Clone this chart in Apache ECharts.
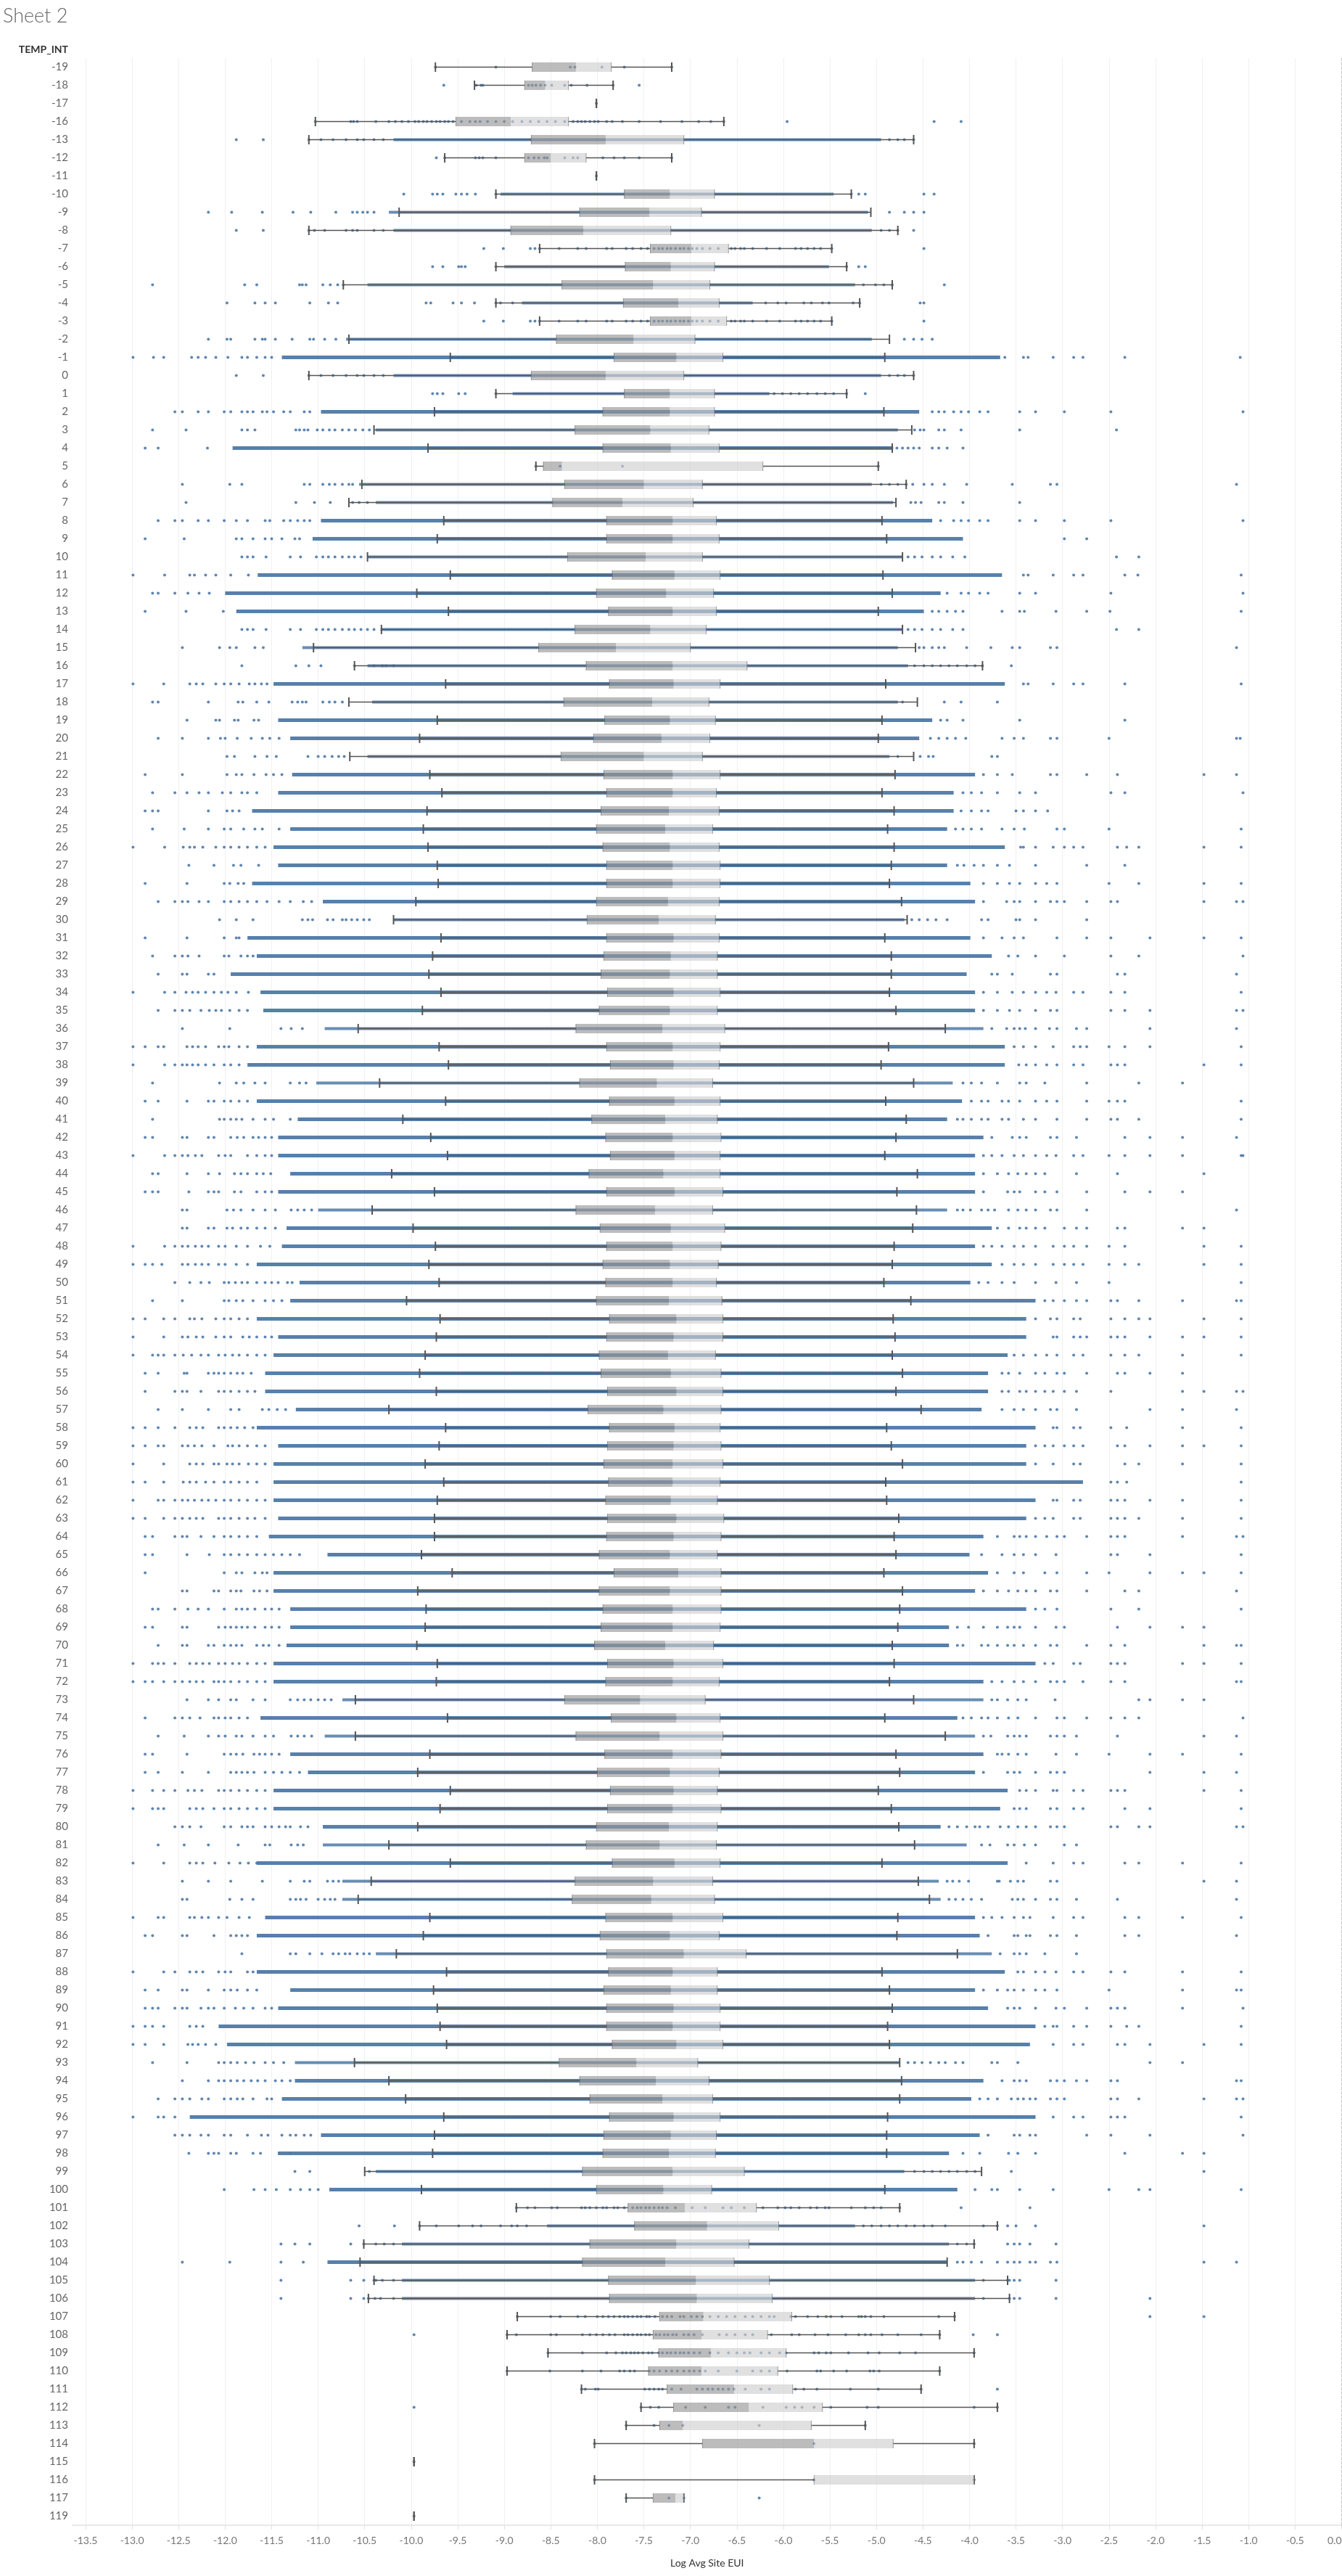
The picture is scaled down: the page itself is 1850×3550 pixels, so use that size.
<!DOCTYPE html>
<html><head><meta charset="utf-8">
<script src="https://cdn.jsdelivr.net/npm/echarts@6/dist/echarts.min.js"></script>
<style>html,body{margin:0;padding:0;background:#fff}#c{width:1850px;height:3550px}</style>
</head><body><div id="c"></div>
<script>
const TEMP_INT = ['-19','-18','-17','-16','-13','-12','-11','-10','-9','-8','-7','-6','-5','-4','-3','-2','-1','0','1','2','3','4','5','6','7','8','9','10','11','12','13','14','15','16','17','18','19','20','21','22','23','24','25','26','27','28','29','30','31','32','33','34','35','36','37','38','39','40','41','42','43','44','45','46','47','48','49','50','51','52','53','54','55','56','57','58','59','60','61','62','63','64','65','66','67','68','69','70','71','72','73','74','75','76','77','78','79','80','81','82','83','84','85','86','87','88','89','90','91','92','93','94','95','96','97','98','99','100','101','102','103','104','105','106','107','108','109','110','111','112','113','114','115','116','117','119'];

const xTicks = [-13.5,-13,-12.5,-12,-11.5,-11,-10.5,-10,-9.5,-9,-8.5,-8,-7.5,-7,-6.5,-6,-5.5,-5,-4.5,-4,-3.5,-3,-2.5,-2,-1.5,-1,-0.5,0];

const whiskerLow = [-9.74,-9.32,-8.01,-11.03,-11.10,-9.64,-8.01,-9.09,-10.13,-11.10,-8.62,-9.09,-10.73,-9.09,-8.62,-10.67,-9.58,-11.10,-9.09,-9.75,-10.40,-9.82,-8.66,-10.53,-10.67,-9.65,-9.72,-10.47,-9.58,-9.94,-9.60,-10.32,-11.05,-10.61,-9.63,-10.67,-9.72,-9.91,-10.66,-9.80,-9.67,-9.83,-9.87,-9.82,-9.72,-9.71,-9.95,-10.19,-9.68,-9.77,-9.81,-9.68,-9.88,-10.57,-9.70,-9.60,-10.34,-9.63,-10.09,-9.79,-9.61,-10.21,-9.75,-10.42,-9.98,-9.74,-9.81,-9.70,-10.05,-9.69,-9.73,-9.85,-9.91,-9.73,-10.24,-9.63,-9.70,-9.85,-9.65,-9.72,-9.75,-9.75,-9.89,-9.56,-9.93,-9.84,-9.85,-9.94,-9.72,-9.73,-10.60,-9.61,-10.60,-9.80,-9.93,-9.58,-9.69,-9.93,-10.24,-9.58,-10.43,-10.57,-9.80,-9.87,-10.16,-9.62,-9.76,-9.72,-9.69,-9.62,-10.61,-10.24,-10.06,-9.65,-9.75,-9.77,-10.50,-9.89,-8.87,-9.91,-10.51,-10.55,-10.40,-10.46,-8.86,-8.97,-8.53,-8.97,-8.17,-7.53,-7.69,-8.03,-9.97,-8.03,-7.69,-9.97];
const q1 = [-8.70,-8.78,-8.01,-9.52,-8.71,-8.78,-8.01,-7.71,-8.19,-8.93,-7.43,-7.70,-8.38,-7.72,-7.43,-8.44,-7.82,-8.71,-7.71,-7.94,-8.24,-7.94,-8.58,-8.35,-8.48,-7.90,-7.90,-8.32,-7.84,-8.01,-7.88,-8.24,-8.63,-8.12,-7.87,-8.36,-7.92,-8.04,-8.39,-7.93,-7.90,-7.96,-8.01,-7.94,-7.90,-7.90,-8.01,-8.11,-7.90,-7.93,-7.96,-7.89,-7.98,-8.23,-7.90,-7.86,-8.19,-7.87,-8.06,-7.91,-7.86,-8.09,-7.90,-8.23,-7.97,-7.90,-7.94,-7.91,-8.01,-7.87,-7.90,-7.98,-7.96,-7.89,-8.10,-7.87,-7.89,-7.93,-7.88,-7.91,-7.89,-7.90,-7.98,-7.82,-7.98,-7.94,-7.96,-8.03,-7.89,-7.91,-8.35,-7.85,-8.23,-7.92,-8.00,-7.86,-7.89,-8.01,-8.12,-7.84,-8.24,-8.27,-7.91,-7.97,-7.90,-7.88,-7.93,-7.90,-7.90,-7.84,-8.41,-8.19,-8.08,-7.87,-7.93,-7.94,-8.16,-8.01,-7.67,-7.60,-8.08,-8.16,-7.88,-7.87,-7.33,-7.40,-7.34,-7.45,-7.25,-7.18,-7.33,-6.87,-9.97,-5.67,-7.40,-9.97];
const median = [-8.23,-8.56,-8.01,-8.93,-7.91,-8.50,-8.01,-7.22,-7.44,-8.15,-6.99,-7.21,-7.40,-7.13,-6.99,-7.61,-7.15,-7.91,-7.22,-7.22,-7.43,-7.21,-8.38,-7.50,-7.73,-7.19,-7.19,-7.48,-7.17,-7.26,-7.19,-7.43,-7.80,-7.19,-7.18,-7.41,-7.22,-7.31,-7.50,-7.19,-7.19,-7.23,-7.27,-7.22,-7.19,-7.19,-7.24,-7.34,-7.18,-7.21,-7.22,-7.18,-7.22,-7.30,-7.19,-7.18,-7.36,-7.17,-7.27,-7.19,-7.17,-7.29,-7.17,-7.38,-7.21,-7.19,-7.22,-7.19,-7.23,-7.15,-7.18,-7.24,-7.21,-7.15,-7.29,-7.17,-7.18,-7.19,-7.19,-7.21,-7.15,-7.18,-7.22,-7.13,-7.22,-7.19,-7.19,-7.27,-7.18,-7.19,-7.54,-7.15,-7.33,-7.19,-7.22,-7.18,-7.19,-7.23,-7.33,-7.17,-7.40,-7.42,-7.19,-7.22,-7.07,-7.19,-7.21,-7.18,-7.19,-7.15,-7.58,-7.37,-7.30,-7.18,-7.21,-7.23,-7.19,-7.29,-7.06,-6.82,-7.15,-7.27,-6.94,-6.93,-6.86,-6.88,-6.78,-6.88,-6.53,-6.37,-7.08,-5.67,-9.97,-5.67,-7.16,-9.97];
const q3 = [-7.85,-8.31,-8.01,-8.31,-7.07,-8.12,-8.01,-6.74,-6.88,-7.21,-6.59,-6.74,-6.79,-6.69,-6.61,-6.95,-6.65,-7.07,-6.74,-6.74,-6.80,-6.69,-6.22,-6.87,-6.97,-6.72,-6.69,-6.87,-6.68,-6.75,-6.72,-6.83,-7.00,-6.39,-6.68,-6.80,-6.73,-6.79,-6.87,-6.68,-6.72,-6.69,-6.76,-6.69,-6.68,-6.68,-6.69,-6.73,-6.69,-6.71,-6.71,-6.68,-6.71,-6.63,-6.68,-6.69,-6.76,-6.68,-6.71,-6.67,-6.68,-6.68,-6.65,-6.76,-6.63,-6.67,-6.70,-6.72,-6.66,-6.65,-6.65,-6.73,-6.67,-6.65,-6.67,-6.68,-6.67,-6.65,-6.68,-6.71,-6.64,-6.67,-6.71,-6.67,-6.67,-6.67,-6.68,-6.75,-6.65,-6.69,-6.84,-6.68,-6.65,-6.67,-6.69,-6.71,-6.67,-6.71,-6.72,-6.68,-6.76,-6.74,-6.65,-6.69,-6.40,-6.71,-6.71,-6.68,-6.68,-6.65,-6.92,-6.80,-6.76,-6.68,-6.72,-6.73,-6.42,-6.77,-6.29,-6.05,-6.37,-6.53,-6.15,-6.12,-5.91,-6.17,-5.97,-6.06,-5.90,-5.58,-5.70,-4.82,-9.97,-3.95,-7.07,-9.97];
const whiskerHigh = [-7.20,-7.83,-8.01,-6.64,-4.60,-7.20,-8.01,-5.27,-5.06,-4.77,-5.48,-5.32,-4.83,-5.18,-5.48,-4.86,-4.91,-4.60,-5.32,-4.92,-4.62,-4.83,-4.98,-4.68,-4.79,-4.94,-4.89,-4.72,-4.93,-4.83,-4.98,-4.72,-4.58,-3.86,-4.90,-4.56,-4.94,-4.98,-4.60,-4.80,-4.94,-4.81,-4.88,-4.81,-4.84,-4.86,-4.73,-4.67,-4.91,-4.84,-4.84,-4.86,-4.79,-4.26,-4.87,-4.95,-4.60,-4.90,-4.68,-4.79,-4.91,-4.56,-4.78,-4.57,-4.61,-4.81,-4.83,-4.92,-4.63,-4.82,-4.80,-4.83,-4.72,-4.79,-4.52,-4.89,-4.84,-4.72,-4.90,-4.89,-4.76,-4.81,-4.79,-4.92,-4.72,-4.75,-4.77,-4.83,-4.81,-4.86,-4.60,-4.91,-4.26,-4.79,-4.75,-4.98,-4.84,-4.76,-4.59,-4.94,-4.55,-4.43,-4.77,-4.78,-4.13,-4.94,-4.86,-4.83,-4.88,-4.86,-4.75,-4.73,-4.75,-4.88,-4.89,-4.89,-3.87,-4.91,-4.75,-3.70,-3.95,-4.24,-3.59,-3.57,-4.16,-4.32,-3.95,-4.32,-4.52,-3.70,-5.12,-3.95,-9.97,-3.95,-7.07,-9.97];

// solid runs of overlapping points: [TEMP_INT, from, to]
const denseBands = [['-1',-11.39,-3.67],['2',-10.97,-4.54],['4',-11.92,-4.82],['8',-10.97,-4.40],['9',-11.06,-4.07],['11',-11.65,-3.65],['12',-12.00,-4.31],['13',-11.88,-4.49],['17',-11.48,-3.62],['19',-11.43,-4.40],['20',-11.30,-4.54],['22',-11.28,-3.94],['23',-11.43,-4.17],['24',-11.71,-4.17],['25',-11.30,-4.24],['26',-11.48,-3.62],['27',-11.43,-4.24],['28',-11.71,-3.99],['29',-10.95,-3.94],['31',-11.76,-3.99],['32',-11.66,-3.76],['33',-11.94,-4.03],['34',-11.62,-3.94],['35',-11.59,-3.94],['37',-11.66,-3.62],['38',-11.76,-3.62],['40',-11.66,-4.08],['41',-11.22,-4.24],['42',-11.43,-3.85],['43',-11.43,-3.94],['44',-11.30,-3.94],['45',-11.43,-3.94],['47',-11.34,-3.76],['48',-11.39,-3.94],['49',-11.66,-3.76],['50',-11.20,-3.99],['51',-11.30,-3.29],['52',-11.66,-3.39],['53',-11.43,-3.39],['54',-11.48,-3.59],['55',-11.57,-3.80],['56',-11.57,-3.80],['57',-11.24,-3.87],['58',-11.66,-3.29],['59',-11.43,-3.39],['60',-11.48,-3.39],['61',-11.48,-2.78],['62',-11.48,-3.29],['63',-11.43,-3.39],['64',-11.53,-3.85],['65',-10.90,-4.00],['66',-11.48,-3.80],['67',-11.48,-3.94],['68',-11.30,-3.39],['69',-11.30,-4.22],['70',-11.34,-4.22],['71',-11.48,-3.29],['72',-11.48,-3.85],['74',-11.62,-4.13],['76',-11.30,-3.85],['77',-11.11,-3.94],['78',-11.48,-3.59],['79',-11.48,-3.67],['80',-10.95,-4.31],['82',-11.66,-3.59],['85',-11.57,-3.94],['86',-11.66,-3.89],['88',-11.66,-3.62],['89',-11.30,-3.94],['90',-11.43,-3.80],['91',-12.07,-3.29],['92',-11.98,-3.35],['94',-11.25,-3.85],['95',-11.39,-3.98],['96',-12.38,-3.29],['97',-10.97,-3.89],['98',-11.43,-4.22],['100',-10.88,-4.13],['104',-10.90,-4.24]];
// looser runs of dots: [TEMP_INT, from, to]
const lightBands = [['-13',-10.19,-4.95],['-10',-9.04,-5.46],['-9',-10.24,-5.09],['-8',-10.19,-5.05],['-6',-9.00,-5.51],['-5',-10.47,-5.23],['-4',-8.81,-6.33],['-2',-10.70,-5.05],['0',-10.19,-4.95],['1',-8.91,-6.15],['3',-10.38,-4.77],['6',-10.56,-5.05],['7',-10.38,-4.82],['10',-10.47,-4.72],['14',-10.33,-4.72],['15',-11.17,-4.77],['16',-10.47,-4.66],['18',-10.42,-4.77],['21',-10.47,-4.86],['30',-10.19,-4.70],['36',-10.93,-3.85],['39',-11.02,-4.18],['46',-11.00,-4.24],['73',-10.74,-3.85],['75',-10.93,-3.94],['81',-10.95,-4.03],['83',-10.74,-4.33],['84',-10.74,-4.31],['87',-10.38,-3.76],['93',-11.25,-4.75],['99',-10.38,-4.70],['102',-8.54,-5.23],['103',-10.10,-4.22],['105',-10.10,-3.94],['106',-10.10,-3.94]];

// individually visible points per row (same order as TEMP_INT)
const pointValues = [
[-9.74,-9.09,-8.29,-8.24,-7.95,-7.71,-7.20],
[-9.65,-9.30,-9.25,-9.23,-8.74,-8.70,-8.66,-8.61,-8.56,-8.49,-8.35,-8.28,-8.11,-7.83,-7.55],
[-8.01],
[-11.03,-10.65,-10.62,-10.58,-10.38,-10.24,-10.17,-10.10,-10.03,-9.96,-9.92,-9.87,-9.83,-9.78,-9.73,-9.69,-9.64,-9.60,-9.55,-9.46,-9.37,-9.31,-9.26,-9.18,-9.09,-9.00,-8.91,-8.81,-8.72,-8.63,-8.54,-8.45,-8.35,-8.26,-8.21,-8.17,-8.13,-8.08,-8.03,-7.99,-7.90,-7.84,-7.73,-7.55,-7.32,-7.09,-6.91,-6.78,-6.64,-5.96,-4.38,-4.09],
[-11.88,-11.59,-11.10,-10.97,-10.84,-10.70,-10.58,-10.51,-10.40,-10.30,-4.86,-4.77,-4.70,-4.60],
[-9.73,-9.64,-9.31,-9.27,-9.23,-9.09,-8.74,-8.68,-8.63,-8.57,-8.54,-8.35,-8.26,-8.21,-7.94,-7.82,-7.71,-7.55,-7.20],
[-8.01],
[-10.08,-9.77,-9.72,-9.66,-9.52,-9.46,-9.40,-9.31,-9.09,-5.27,-5.19,-5.12,-4.49,-4.38],
[-12.18,-11.93,-11.60,-11.27,-11.08,-10.81,-10.63,-10.58,-10.52,-10.47,-10.40,-4.86,-4.70,-4.60,-4.49],
[-11.88,-11.59,-11.10,-11.04,-10.93,-10.70,-10.63,-10.58,-10.40,-10.30,-4.95,-4.86,-4.77,-4.60],
[-9.22,-9.01,-8.72,-8.67,-8.62,-8.41,-8.21,-8.12,-7.90,-7.84,-7.69,-7.62,-7.53,-7.46,-7.39,-7.34,-7.30,-7.25,-7.21,-7.16,-7.11,-7.07,-7.02,-6.98,-6.93,-6.87,-6.79,-6.70,-6.56,-6.52,-6.46,-6.42,-6.33,-6.18,-6.04,-5.87,-5.81,-5.74,-5.67,-5.60,-5.48,-4.49],
[-9.77,-9.66,-9.49,-9.46,-9.42,-9.09,-5.32,-5.19,-5.12],
[-12.78,-11.79,-11.66,-11.20,-11.17,-11.13,-10.95,-10.87,-10.79,-10.73,-5.14,-5.01,-4.92,-4.83,-4.27],
[-11.98,-11.68,-11.57,-11.46,-11.09,-10.89,-10.79,-9.84,-9.79,-9.55,-9.46,-9.32,-9.09,-9.04,-8.91,-6.19,-6.06,-5.97,-5.78,-5.70,-5.58,-5.51,-5.25,-5.18,-4.53,-4.49],
[-9.22,-9.01,-8.72,-8.67,-8.62,-8.41,-8.21,-8.12,-7.90,-7.84,-7.69,-7.62,-7.53,-7.46,-7.39,-7.34,-7.30,-7.25,-7.21,-7.16,-7.11,-7.07,-7.02,-6.98,-6.93,-6.87,-6.79,-6.70,-6.56,-6.52,-6.46,-6.42,-6.33,-6.18,-6.04,-5.87,-5.81,-5.74,-5.67,-5.60,-5.48,-4.49],
[-12.18,-11.98,-11.94,-11.68,-11.60,-11.57,-11.46,-11.28,-11.09,-11.05,-10.93,-10.81,-4.70,-4.60,-4.51,-4.40],
[-12.99,-12.77,-12.66,-12.36,-12.29,-12.21,-12.10,-11.97,-11.82,-11.76,-11.66,-11.57,-11.50,-3.62,-3.42,-3.37,-3.10,-2.88,-2.78,-2.33,-1.09],
[-11.88,-11.59,-11.10,-10.97,-10.84,-10.70,-10.58,-10.51,-10.40,-10.30,-4.86,-4.77,-4.70,-4.60],
[-9.77,-9.72,-9.66,-9.49,-9.42,-9.09,-6.10,-6.01,-5.92,-5.83,-5.74,-5.64,-5.55,-5.46,-5.32,-5.12],
[-12.54,-12.46,-12.29,-12.18,-12.01,-11.94,-11.82,-11.76,-11.70,-11.60,-11.55,-11.48,-11.37,-11.30,-11.15,-11.09,-4.40,-4.33,-4.27,-4.17,-4.09,-4.01,-3.89,-3.80,-3.46,-3.29,-2.98,-2.48,-1.06],
[-12.78,-12.42,-11.82,-11.76,-11.68,-11.24,-11.20,-11.15,-11.11,-11.01,-10.95,-10.88,-10.82,-10.74,-10.67,-10.60,-10.52,-10.45,-4.59,-4.53,-4.49,-4.33,-4.27,-4.09,-3.46,-2.42],
[-12.86,-12.72,-12.19,-4.78,-4.72,-4.66,-4.60,-4.54,-4.40,-4.33,-4.24,-4.07],
[-8.66,-8.40,-7.73,-4.98],
[-12.46,-11.95,-11.82,-11.15,-11.09,-10.95,-10.88,-10.82,-10.74,-10.67,-10.63,-4.95,-4.86,-4.77,-4.68,-4.61,-4.49,-4.40,-4.27,-4.03,-3.54,-3.13,-3.06,-1.13],
[-12.42,-11.24,-11.04,-10.87,-10.63,-10.56,-10.47,-4.63,-4.58,-4.52,-4.33,-4.27,-4.07,-3.46],
[-12.72,-12.54,-12.46,-12.29,-12.18,-12.01,-11.88,-11.76,-11.57,-11.52,-11.37,-11.30,-11.22,-11.15,-11.09,-4.31,-4.17,-4.09,-4.01,-3.89,-3.80,-3.46,-3.29,-2.98,-2.48,-1.06],
[-12.86,-12.44,-11.88,-11.82,-11.70,-11.57,-11.50,-11.39,-11.25,-11.20,-2.98,-2.74],
[-11.82,-11.76,-11.70,-11.56,-11.30,-11.19,-11.02,-10.95,-10.89,-10.82,-10.74,-10.67,-10.61,-10.54,-4.66,-4.59,-4.51,-4.40,-4.31,-4.18,-4.05,-2.42,-2.18],
[-12.99,-12.65,-12.38,-12.33,-12.21,-12.10,-11.94,-11.75,-3.42,-3.37,-3.10,-2.88,-2.78,-2.33,-2.19,-1.08],
[-12.78,-12.72,-12.54,-12.40,-12.28,-12.17,-4.24,-4.09,-4.01,-3.89,-3.80,-3.46,-3.29,-2.48,-1.06],
[-12.86,-12.42,-12.02,-4.40,-4.33,-4.24,-4.15,-4.07,-3.65,-3.46,-3.41,-3.07,-2.74,-2.49,-1.08],
[-11.82,-11.76,-11.70,-11.56,-11.30,-11.19,-11.02,-10.95,-10.89,-10.82,-10.74,-10.67,-10.61,-10.54,-10.47,-10.40,-4.66,-4.59,-4.51,-4.40,-4.31,-4.18,-4.07,-2.42,-2.18],
[-12.46,-12.06,-11.95,-11.88,-11.68,-11.59,-4.54,-4.49,-4.40,-4.33,-4.27,-4.03,-3.77,-3.54,-3.46,-3.13,-3.06,-1.13],
[-11.82,-11.24,-11.10,-10.97,-10.61,-10.40,-10.31,-10.27,-10.19,-4.59,-4.49,-4.40,-4.31,-4.22,-4.13,-4.03,-3.94,-3.86,-3.55],
[-12.99,-12.66,-12.38,-12.31,-12.24,-12.10,-12.01,-11.94,-11.85,-11.74,-11.68,-11.61,-11.55,-3.42,-3.37,-3.10,-2.88,-2.78,-2.33,-1.08],
[-12.78,-12.72,-12.18,-11.86,-11.81,-11.66,-11.53,-11.28,-11.22,-11.17,-11.13,-10.95,-10.88,-10.82,-10.74,-4.72,-4.27,-4.09,-3.70],
[-12.41,-12.10,-12.06,-11.90,-11.86,-11.69,-11.64,-4.31,-4.24,-4.07,-3.46,-2.33],
[-12.72,-12.46,-12.18,-12.05,-12.00,-11.87,-11.72,-11.60,-11.52,-11.42,-4.42,-4.33,-4.24,-4.15,-4.04,-3.65,-3.52,-3.42,-3.13,-3.06,-2.50,-1.13,-1.09],
[-11.98,-11.90,-11.68,-11.55,-11.45,-11.11,-11.00,-10.93,-10.85,-10.78,-10.72,-4.77,-4.53,-4.44,-4.39,-3.76,-3.70],
[-12.86,-12.46,-11.98,-11.88,-11.82,-11.69,-11.56,-11.48,-11.39,-3.85,-3.70,-3.54,-3.13,-3.06,-2.74,-2.41,-1.48,-1.13],
[-12.78,-12.54,-12.41,-12.28,-12.18,-12.03,-11.94,-11.82,-11.76,-11.66,-4.07,-3.98,-3.87,-3.70,-3.46,-3.29,-2.48,-2.33,-1.06],
[-12.86,-12.78,-12.72,-12.18,-11.98,-11.92,-11.85,-4.09,-3.98,-3.87,-3.80,-3.50,-3.42,-3.29,-3.16],
[-12.78,-12.44,-12.18,-12.01,-11.94,-11.80,-11.68,-11.60,-11.42,-4.15,-4.07,-3.98,-3.87,-3.65,-3.52,-3.41,-3.06,-2.98,-2.50,-1.08],
[-12.99,-12.65,-12.45,-12.38,-12.33,-12.24,-12.10,-12.01,-11.94,-11.85,-11.76,-11.66,-11.57,-3.45,-3.42,-3.29,-3.10,-2.98,-2.88,-2.78,-2.41,-2.31,-2.18,-1.48,-1.08],
[-12.39,-12.12,-11.91,-11.83,-11.64,-4.13,-4.06,-3.95,-3.85,-3.70,-3.57,-3.29,-2.74,-2.33],
[-12.86,-12.41,-12.01,-11.95,-11.86,-11.80,-3.85,-3.70,-3.57,-3.46,-3.29,-3.17,-3.06,-2.50,-2.18,-1.48,-1.08],
[-12.72,-12.54,-12.46,-12.40,-12.28,-12.18,-12.01,-11.94,-11.85,-11.76,-11.66,-11.55,-11.42,-11.30,-11.16,-11.07,-3.85,-3.60,-3.52,-3.46,-3.29,-3.13,-3.06,-2.98,-2.74,-2.48,-2.41,-1.48,-1.13,-1.06],
[-12.06,-11.88,-11.70,-11.17,-11.11,-11.06,-10.90,-10.84,-10.74,-10.70,-10.64,-10.58,-10.51,-10.45,-4.62,-4.54,-4.45,-4.36,-4.24,-3.87,-3.80,-3.50,-3.46,-3.29,-2.74],
[-12.86,-12.41,-12.01,-11.88,-11.85,-3.85,-3.65,-3.52,-3.42,-3.06,-2.74,-2.48,-2.06,-1.48,-1.08],
[-12.78,-12.54,-12.46,-12.40,-12.28,-12.01,-11.96,-11.83,-11.76,-11.70,-3.58,-3.48,-3.29,-2.98,-2.48,-2.18,-1.06],
[-12.72,-12.46,-12.41,-12.18,-12.12,-3.76,-3.70,-3.54,-3.13,-3.06,-2.41,-2.33,-1.13],
[-12.99,-12.65,-12.54,-12.42,-12.35,-12.29,-12.21,-12.12,-12.04,-11.97,-11.88,-11.75,-3.85,-3.70,-3.54,-3.42,-3.29,-3.17,-3.07,-2.88,-2.78,-2.48,-2.33,-1.08],
[-12.72,-12.54,-12.46,-12.38,-12.26,-12.17,-12.10,-12.04,-11.95,-11.85,-11.76,-3.85,-3.70,-3.57,-3.46,-3.29,-3.13,-3.06,-2.48,-2.33,-2.06,-1.13,-1.06],
[-12.46,-11.95,-11.40,-11.29,-11.17,-3.76,-3.60,-3.52,-3.46,-3.40,-3.29,-3.14,-3.06,-2.85,-2.74,-2.06,-1.13],
[-12.99,-12.86,-12.72,-12.66,-12.41,-12.35,-12.29,-12.21,-12.07,-12.01,-11.96,-11.85,-11.76,-3.52,-3.42,-3.29,-3.10,-2.88,-2.81,-2.74,-2.50,-2.33,-2.06,-1.08],
[-12.99,-12.65,-12.54,-12.46,-12.41,-12.35,-12.29,-12.21,-12.12,-12.01,-11.94,-11.85,-3.47,-3.39,-3.29,-3.17,-3.06,-2.88,-2.78,-2.48,-2.41,-2.33,-1.48,-1.08],
[-12.78,-12.06,-11.88,-11.80,-11.68,-11.57,-11.30,-11.20,-11.13,-4.07,-3.98,-3.87,-3.70,-3.46,-3.39,-3.19,-2.74,-2.18,-1.71],
[-12.86,-12.72,-12.41,-12.18,-12.12,-12.01,-11.94,-11.85,-11.76,-3.98,-3.87,-3.80,-3.65,-3.58,-3.46,-3.29,-3.17,-3.06,-2.74,-2.50,-2.41,-2.33,-1.08],
[-12.78,-12.06,-12.01,-11.94,-11.88,-11.82,-11.70,-11.57,-11.48,-11.30,-4.13,-4.07,-3.98,-3.87,-3.80,-3.65,-3.58,-3.42,-3.29,-3.06,-2.74,-2.48,-2.41,-2.18,-1.08],
[-12.86,-12.78,-12.46,-12.41,-12.18,-12.12,-11.94,-11.87,-11.80,-11.70,-11.64,-11.57,-11.50,-3.76,-3.54,-3.46,-3.39,-3.13,-3.06,-2.85,-2.33,-2.06,-1.71,-1.13],
[-12.99,-12.65,-12.54,-12.46,-12.40,-12.32,-12.25,-12.07,-12.00,-11.94,-11.76,-11.66,-11.57,-11.50,-3.85,-3.76,-3.65,-3.52,-3.42,-3.29,-3.17,-3.07,-2.88,-2.78,-2.50,-2.33,-2.06,-1.71,-1.08,-1.06],
[-12.78,-12.72,-12.41,-12.18,-12.06,-11.90,-11.83,-11.76,-11.66,-11.59,-11.51,-3.85,-3.70,-3.58,-3.48,-3.39,-3.29,-3.19,-2.85,-2.41,-1.48],
[-12.86,-12.78,-12.72,-12.39,-12.18,-12.12,-12.07,-11.90,-11.83,-11.66,-11.57,-11.50,-3.85,-3.59,-3.52,-3.46,-3.29,-3.19,-3.06,-2.74,-2.33,-2.06,-1.71],
[-12.46,-12.41,-11.98,-11.91,-11.83,-11.70,-11.57,-11.46,-11.29,-11.22,-11.15,-11.07,-4.13,-4.07,-3.99,-3.87,-3.80,-3.73,-3.58,-3.48,-3.39,-3.29,-3.13,-3.06,-2.74,-1.13],
[-12.46,-12.41,-12.18,-12.12,-11.98,-11.92,-11.83,-11.76,-11.66,-11.57,-11.46,-3.70,-3.58,-3.46,-3.39,-3.29,-3.19,-2.98,-2.85,-2.74,-2.41,-2.33,-1.71,-1.48],
[-12.99,-12.65,-12.54,-12.46,-12.40,-12.32,-12.25,-12.18,-12.07,-12.00,-11.88,-11.76,-11.62,-11.52,-3.85,-3.76,-3.65,-3.52,-3.42,-3.29,-3.10,-2.98,-2.88,-2.74,-2.50,-2.33,-1.48,-1.08],
[-12.99,-12.86,-12.78,-12.68,-12.46,-12.40,-12.32,-12.25,-12.18,-12.07,-12.00,-11.88,-11.76,-3.65,-3.52,-3.42,-3.29,-3.10,-2.98,-2.88,-2.78,-2.50,-2.33,-2.18,-1.48,-1.08],
[-12.54,-12.38,-12.26,-12.17,-12.01,-11.96,-11.89,-11.82,-11.76,-11.66,-11.57,-11.50,-11.43,-11.33,-11.28,-3.90,-3.80,-3.65,-3.52,-3.29,-3.07,-2.85,-2.50,-1.08],
[-12.78,-12.46,-12.01,-11.96,-11.88,-11.81,-11.70,-11.57,-11.48,-11.39,-3.19,-3.10,-2.98,-2.85,-2.74,-2.48,-2.41,-2.18,-1.71,-1.13,-1.08],
[-12.99,-12.86,-12.66,-12.54,-12.38,-12.33,-12.25,-12.10,-12.01,-11.94,-11.85,-11.76,-3.29,-3.13,-3.06,-2.88,-2.81,-2.48,-2.33,-2.18,-2.06,-1.48,-1.08],
[-12.99,-12.66,-12.46,-12.40,-12.31,-12.24,-12.10,-12.01,-11.94,-11.81,-11.74,-11.66,-11.57,-11.50,-3.10,-3.06,-2.88,-2.81,-2.74,-2.48,-2.41,-2.33,-2.06,-1.71,-1.48,-1.08],
[-12.99,-12.78,-12.72,-12.66,-12.54,-12.45,-12.36,-12.26,-12.18,-12.07,-12.00,-11.92,-11.85,-11.76,-11.66,-11.57,-3.52,-3.42,-3.29,-3.17,-3.06,-2.88,-2.78,-2.48,-2.33,-2.18,-1.71,-1.08],
[-12.86,-12.72,-12.44,-12.41,-12.18,-12.12,-12.07,-12.01,-11.94,-11.87,-11.81,-11.72,-3.65,-3.58,-3.46,-3.29,-3.19,-3.06,-2.98,-2.74,-2.41,-2.33,-2.06,-1.71],
[-12.86,-12.54,-12.46,-12.41,-12.26,-12.07,-12.01,-11.94,-11.85,-11.76,-11.68,-3.65,-3.58,-3.46,-3.39,-3.29,-3.19,-3.10,-2.98,-2.85,-2.48,-1.71,-1.48,-1.13,-1.06],
[-12.72,-12.46,-12.18,-11.94,-11.85,-11.60,-11.53,-11.44,-11.35,-3.65,-3.52,-3.42,-3.29,-3.13,-3.06,-2.85,-2.06,-1.71,-1.13],
[-12.99,-12.86,-12.72,-12.54,-12.38,-12.31,-12.24,-12.07,-12.01,-11.94,-11.87,-11.79,-11.70,-3.10,-3.06,-2.88,-2.81,-2.48,-2.31,-1.71,-1.08],
[-12.99,-12.86,-12.72,-12.66,-12.46,-12.40,-12.33,-12.25,-12.12,-11.97,-11.92,-11.85,-11.76,-11.66,-11.57,-3.29,-3.19,-3.10,-2.98,-2.88,-2.78,-2.41,-2.33,-2.06,-1.71,-1.48,-1.08],
[-12.99,-12.66,-12.38,-12.31,-12.24,-12.12,-12.07,-11.98,-11.92,-11.85,-11.75,-11.66,-11.57,-3.29,-3.10,-2.88,-2.81,-2.33,-2.18,-1.71,-1.08],
[-12.99,-12.86,-12.66,-12.45,-12.38,-12.31,-12.21,-12.12,-12.01,-11.94,-11.85,-11.76,-11.66,-2.48,-2.41,-2.31,-1.08],
[-12.99,-12.72,-12.66,-12.54,-12.46,-12.40,-12.33,-12.25,-12.18,-12.10,-12.01,-11.94,-11.85,-11.76,-11.66,-11.57,-3.10,-3.06,-2.88,-2.81,-2.48,-2.41,-2.33,-2.06,-1.71,-1.08],
[-12.99,-12.86,-12.66,-12.54,-12.46,-12.38,-12.31,-12.24,-12.07,-12.01,-11.94,-11.85,-11.76,-11.68,-11.57,-3.29,-3.19,-3.10,-2.88,-2.81,-2.48,-2.41,-2.33,-2.18,-1.71,-1.08],
[-12.86,-12.78,-12.54,-12.46,-12.41,-12.26,-12.12,-12.01,-11.94,-11.85,-11.76,-11.66,-3.70,-3.52,-3.46,-3.39,-3.29,-3.17,-3.06,-2.98,-2.74,-2.48,-2.41,-2.33,-1.71,-1.13,-1.06],
[-12.86,-12.78,-12.41,-12.17,-12.01,-11.94,-11.85,-11.76,-11.66,-11.57,-11.48,-11.39,-11.30,-11.20,-3.87,-3.65,-3.52,-3.42,-3.29,-3.07,-2.48,-2.41,-2.06,-1.08],
[-12.86,-12.01,-11.88,-11.82,-11.68,-11.60,-11.55,-3.70,-3.52,-3.42,-3.19,-3.06,-2.74,-2.50,-2.06,-1.71,-1.48,-1.08],
[-12.46,-12.41,-12.12,-12.07,-11.94,-11.88,-11.83,-11.69,-11.63,-11.55,-3.85,-3.70,-3.58,-3.48,-3.39,-3.29,-3.13,-3.06,-2.74,-2.33,-2.18,-1.13],
[-12.78,-12.72,-12.54,-12.40,-12.29,-12.18,-12.01,-11.88,-11.82,-11.76,-11.68,-11.57,-11.50,-11.42,-3.29,-3.19,-3.06,-2.48,-2.18,-1.08],
[-12.86,-12.78,-12.46,-12.41,-12.07,-12.00,-11.94,-11.88,-11.82,-11.76,-11.68,-11.57,-11.50,-11.42,-4.13,-4.01,-3.85,-3.70,-3.59,-3.52,-3.46,-3.29,-3.07,-2.98,-2.41,-2.06,-1.71,-1.48],
[-12.72,-12.46,-12.41,-12.18,-12.12,-12.01,-11.94,-11.88,-11.82,-11.66,-11.59,-11.53,-11.42,-4.13,-4.07,-3.87,-3.80,-3.70,-3.59,-3.52,-3.42,-3.29,-3.13,-3.06,-2.74,-2.48,-2.33,-1.48,-1.13,-1.08],
[-12.99,-12.78,-12.72,-12.66,-12.54,-12.38,-12.31,-12.24,-12.17,-12.07,-12.00,-11.92,-11.85,-11.76,-11.66,-11.57,-3.19,-3.10,-2.88,-2.81,-2.48,-2.41,-2.33,-1.71,-1.48,-1.08],
[-12.99,-12.86,-12.78,-12.66,-12.54,-12.46,-12.38,-12.31,-12.24,-12.12,-12.07,-12.01,-11.94,-11.85,-11.76,-11.66,-11.57,-3.76,-3.65,-3.52,-3.42,-3.29,-3.13,-3.06,-2.98,-2.78,-2.48,-2.33,-1.13,-1.08],
[-12.41,-12.18,-12.07,-11.94,-11.88,-11.70,-11.57,-11.30,-11.22,-11.15,-11.08,-11.00,-10.93,-10.86,-3.76,-3.70,-3.59,-3.48,-3.39,-3.08,-2.18,-2.06,-1.71,-1.48],
[-12.86,-12.54,-12.46,-12.38,-12.27,-12.12,-12.07,-12.00,-11.94,-11.85,-11.76,-4.07,-3.98,-3.87,-3.80,-3.70,-3.58,-3.48,-3.29,-3.06,-2.98,-2.74,-2.48,-2.33,-2.18,-1.06],
[-12.72,-12.44,-12.18,-12.07,-12.00,-11.88,-11.82,-11.70,-11.57,-11.48,-11.29,-11.22,-11.15,-11.07,-3.85,-3.77,-3.59,-3.52,-3.46,-3.39,-3.13,-3.06,-2.98,-2.85,-2.41,-1.48,-1.13],
[-12.86,-12.78,-12.41,-12.01,-11.94,-11.88,-11.81,-11.69,-11.63,-11.57,-11.50,-11.42,-3.70,-3.65,-3.58,-3.48,-3.39,-3.07,-2.85,-2.50,-2.06,-1.71,-1.08],
[-12.86,-12.72,-12.46,-12.18,-11.94,-11.88,-11.82,-11.76,-11.69,-11.57,-11.48,-11.39,-11.30,-11.20,-3.85,-3.59,-3.52,-3.46,-3.29,-3.13,-3.06,-2.98,-2.06,-1.48,-1.13],
[-12.99,-12.78,-12.66,-12.54,-12.40,-12.33,-12.25,-12.07,-12.01,-11.94,-11.85,-11.76,-11.66,-11.57,-3.46,-3.39,-3.29,-3.10,-3.06,-2.88,-2.78,-2.48,-2.41,-2.33,-1.48,-1.08],
[-12.99,-12.78,-12.72,-12.66,-12.38,-12.31,-12.24,-12.12,-12.01,-11.94,-11.85,-11.76,-11.66,-11.57,-3.52,-3.46,-3.39,-3.13,-3.06,-2.88,-2.78,-2.33,-2.06,-1.08],
[-12.54,-12.46,-12.38,-12.26,-12.01,-11.94,-11.82,-11.76,-11.70,-11.57,-11.50,-11.42,-11.35,-11.30,-11.19,-11.11,-4.22,-4.13,-4.03,-3.94,-3.89,-3.80,-3.67,-3.58,-3.48,-3.39,-3.29,-3.13,-3.06,-2.98,-2.48,-2.41,-2.18,-2.06,-1.13,-1.06],
[-12.72,-12.44,-12.18,-11.86,-11.57,-11.52,-11.29,-11.22,-11.16,-3.87,-3.78,-3.59,-3.52,-3.41,-3.29,-2.98,-2.85],
[-12.99,-12.66,-12.38,-12.31,-12.24,-12.11,-11.96,-11.84,-11.75,-11.66,-3.39,-3.10,-2.88,-2.78,-2.33,-2.18,-1.71,-1.08],
[-12.46,-12.18,-11.94,-11.60,-11.30,-11.15,-11.09,-10.90,-10.84,-10.78,-4.24,-4.18,-4.11,-4.01,-3.70,-3.68,-3.56,-3.48,-3.42,-3.13,-3.06,-1.48,-1.13],
[-12.46,-12.41,-11.95,-11.82,-11.70,-11.30,-11.24,-11.19,-11.13,-11.00,-10.93,-10.87,-10.82,-4.22,-4.15,-4.07,-3.98,-3.87,-3.54,-3.48,-3.42,-3.29,-3.13,-3.06,-2.85,-2.41,-1.13],
[-12.99,-12.72,-12.66,-12.38,-12.33,-12.25,-12.18,-12.07,-11.98,-11.85,-11.74,-3.85,-3.76,-3.65,-3.52,-3.42,-3.35,-3.10,-2.88,-2.78,-2.33,-2.18,-1.71,-1.08],
[-12.86,-12.78,-12.46,-12.41,-12.12,-11.94,-11.88,-11.82,-11.76,-3.80,-3.52,-3.48,-3.39,-3.35,-3.13,-3.06,-2.85,-2.33,-2.18,-1.13],
[-11.82,-11.30,-11.24,-11.09,-10.96,-10.84,-10.78,-10.71,-10.66,-10.58,-10.51,-10.45,-3.67,-3.52,-3.46,-3.39,-3.19,-2.85],
[-12.99,-12.66,-12.54,-12.38,-12.31,-12.24,-12.07,-12.00,-11.94,-11.76,-11.70,-3.48,-3.42,-3.29,-3.19,-3.07,-2.88,-2.78,-2.48,-2.33,-1.71,-1.08],
[-12.86,-12.72,-12.46,-12.41,-12.18,-12.01,-11.94,-11.87,-11.76,-11.66,-3.85,-3.70,-3.59,-3.52,-3.42,-3.29,-3.19,-3.06,-2.50,-1.71,-1.13,-1.08],
[-12.86,-12.78,-12.72,-12.54,-12.46,-12.41,-12.26,-12.18,-12.12,-12.01,-11.89,-11.80,-11.70,-11.57,-11.50,-3.59,-3.52,-3.46,-3.29,-3.07,-2.98,-2.74,-2.48,-2.41,-2.33,-1.71,-1.06],
[-12.99,-12.86,-12.78,-12.66,-12.38,-12.31,-12.24,-3.19,-3.10,-3.06,-2.88,-2.74,-2.48,-2.31,-2.18,-1.08],
[-12.99,-12.86,-12.66,-12.40,-12.35,-12.29,-12.21,-12.10,-3.10,-2.88,-2.78,-2.41,-2.33,-2.06,-1.48,-1.08],
[-12.78,-12.41,-12.07,-12.01,-11.94,-11.87,-11.78,-11.69,-11.57,-11.48,-11.37,-4.66,-4.59,-4.51,-4.42,-4.33,-4.26,-4.15,-4.07,-3.76,-3.70,-3.48,-2.06,-1.71],
[-12.46,-12.18,-12.07,-12.01,-11.94,-11.87,-11.80,-11.72,-11.65,-11.57,-11.46,-11.39,-11.30,-3.65,-3.52,-3.46,-3.39,-3.13,-3.06,-2.98,-2.85,-2.74,-2.48,-2.41,-1.13,-1.08],
[-12.72,-12.54,-12.46,-12.38,-12.25,-12.18,-12.01,-11.94,-11.87,-11.81,-11.70,-11.55,-11.50,-3.89,-3.80,-3.70,-3.55,-3.48,-3.42,-3.35,-3.29,-3.13,-3.06,-2.98,-2.48,-2.41,-2.18,-1.48,-1.13,-1.06],
[-12.99,-12.72,-12.66,-12.54,-3.10,-2.88,-2.78,-2.48,-2.41,-2.33,-1.08],
[-12.54,-12.46,-12.38,-12.26,-12.18,-12.01,-11.94,-11.76,-11.61,-11.54,-11.39,-11.30,-11.24,-11.15,-11.08,-3.80,-3.52,-3.46,-3.35,-3.29,-2.74,-2.48,-2.06,-1.06],
[-12.39,-12.18,-12.12,-12.07,-11.94,-11.88,-11.70,-11.62,-11.42,-11.30,-4.07,-3.89,-3.58,-3.48,-3.29,-2.33,-1.71,-1.48],
[-11.25,-11.09,-10.45,-4.59,-4.49,-4.40,-4.31,-4.22,-4.13,-4.03,-3.94,-3.55,-1.48],
[-12.01,-11.69,-11.57,-11.45,-11.30,-11.19,-11.09,-11.00,-3.94,-3.76,-3.70,-3.46,-3.10,-2.50,-2.18,-2.06,-1.08],
[-8.87,-8.75,-8.67,-8.49,-8.43,-8.17,-8.13,-8.08,-8.01,-7.94,-7.90,-7.82,-7.78,-7.71,-7.62,-7.57,-7.53,-7.48,-7.44,-7.39,-7.34,-7.30,-7.25,-7.16,-6.98,-6.84,-6.65,-6.56,-6.42,-6.22,-6.06,-5.98,-5.92,-5.83,-5.71,-5.64,-5.55,-5.51,-5.27,-5.12,-5.03,-4.95,-4.75,-4.09,-3.35],
[-10.56,-10.18,-9.91,-9.73,-9.49,-9.34,-9.25,-9.04,-8.92,-8.86,-8.76,-5.14,-5.05,-4.95,-4.86,-4.77,-4.68,-4.59,-4.49,-4.40,-4.26,-3.85,-3.70,-3.59,-3.50,-3.29,-1.48],
[-11.40,-11.25,-11.09,-10.65,-10.51,-10.38,-10.29,-10.19,-4.13,-4.03,-3.95,-3.59,-3.52,-3.46,-3.35,-3.07],
[-12.46,-11.95,-11.40,-11.16,-10.55,-4.13,-4.07,-3.98,-3.87,-3.70,-3.59,-3.52,-3.46,-3.35,-3.29,-3.13,-3.06,-1.48,-1.13],
[-11.40,-10.65,-10.51,-10.40,-10.38,-10.31,-10.19,-3.85,-3.59,-3.57,-3.52,-3.46,-3.07],
[-11.40,-10.65,-10.51,-10.46,-10.39,-10.33,-10.19,-3.85,-3.57,-3.52,-3.46,-3.07,-2.06],
[-8.86,-8.50,-8.40,-8.21,-8.13,-8.00,-7.94,-7.88,-7.82,-7.76,-7.71,-7.67,-7.62,-7.57,-7.53,-7.47,-7.44,-7.38,-7.30,-7.25,-7.20,-7.11,-7.07,-6.99,-6.93,-6.87,-6.79,-6.70,-6.61,-6.52,-6.41,-6.33,-6.24,-6.15,-6.10,-5.92,-5.87,-5.74,-5.63,-5.54,-5.49,-5.37,-5.19,-5.16,-5.12,-5.06,-4.92,-4.33,-4.16,-2.06,-1.48],
[-9.97,-8.97,-8.87,-8.50,-8.44,-8.16,-8.08,-8.01,-7.94,-7.87,-7.81,-7.71,-7.67,-7.62,-7.57,-7.53,-7.48,-7.44,-7.37,-7.33,-7.28,-7.24,-7.19,-7.15,-7.07,-7.02,-6.96,-6.87,-6.69,-6.61,-6.52,-6.41,-6.33,-6.13,-5.91,-5.83,-5.66,-5.52,-5.33,-5.19,-5.12,-5.06,-4.94,-4.77,-4.52,-4.32,-3.96,-3.70],
[-8.53,-8.16,-7.90,-7.80,-7.73,-7.69,-7.64,-7.60,-7.56,-7.51,-7.45,-7.41,-7.34,-7.30,-7.25,-7.21,-7.16,-7.11,-7.07,-7.02,-6.96,-6.90,-6.79,-6.70,-6.59,-6.50,-6.42,-6.36,-6.24,-6.15,-6.04,-5.97,-5.67,-5.62,-5.54,-5.49,-5.30,-5.09,-4.97,-4.75,-4.58,-3.95],
[-8.97,-8.51,-8.16,-7.96,-7.76,-7.71,-7.65,-7.60,-7.44,-7.39,-7.33,-7.26,-7.20,-7.14,-7.07,-7.01,-6.96,-6.90,-6.84,-6.70,-6.50,-6.33,-6.24,-6.15,-5.96,-5.64,-5.60,-5.46,-5.32,-5.07,-5.03,-4.97,-4.32],
[-8.17,-8.13,-8.02,-7.99,-7.49,-7.44,-7.39,-7.34,-7.30,-7.20,-7.10,-6.93,-6.87,-6.81,-6.76,-6.70,-6.65,-6.59,-6.53,-6.41,-6.24,-6.15,-5.87,-5.78,-5.64,-5.28,-4.98,-4.52,-3.70],
[-9.97,-7.53,-7.43,-7.34,-7.05,-6.84,-6.59,-6.52,-6.22,-5.97,-5.88,-5.80,-5.67,-5.49,-5.10,-4.98,-3.95,-3.70],
[-7.69,-7.39,-7.23,-7.08,-6.26,-5.12],
[-8.03,-5.67,-3.95],
[-9.97],
[-8.03,-5.67,-3.95],
[-7.69,-7.23,-7.07,-6.26],
[-9.97]
];

// ---------- series data built from the arrays ----------
const bandData = [];
lightBands.forEach(b => bandData.push([TEMP_INT.indexOf(b[0]), b[1], b[2], 0]));
denseBands.forEach(b => bandData.push([TEMP_INT.indexOf(b[0]), b[1], b[2], 1]));
const scatterData = [];
pointValues.forEach((arr, i) => arr.forEach(v => scatterData.push([v, i])));
const boxData = TEMP_INT.map((c, i) => [i, whiskerLow[i], q1[i], median[i], q3[i], whiskerHigh[i]]);

const BLUE = '#4e79a7';
const BOX_H = 13;

function bandItem(params, api) {
  const row = api.value(0), kind = api.value(3);
  const p0 = api.coord([api.value(1), row]);
  const p1 = api.coord([api.value(2), row]);
  const h = kind === 1 ? 5 : 4;
  return { type: 'rect', shape: { x: p0[0], y: p0[1] - h / 2, width: p1[0] - p0[0], height: h },
           style: { fill: BLUE, opacity: kind === 1 ? 0.95 : 0.85 } };
}
function whiskerItem(params, api) {
  const row = api.value(0);
  const lo = api.coord([api.value(1), row]), a = api.coord([api.value(2), row]),
        b = api.coord([api.value(4), row]), hi = api.coord([api.value(5), row]);
  const y = lo[1], c = '#555555', h = BOX_H / 2;
  const kids = [];
  if (a[0] > lo[0]) kids.push({ type: 'line', shape: { x1: lo[0], y1: y, x2: a[0], y2: y }, style: { stroke: c, lineWidth: 1.5 } });
  if (hi[0] > b[0]) kids.push({ type: 'line', shape: { x1: b[0], y1: y, x2: hi[0], y2: y }, style: { stroke: c, lineWidth: 1.5 } });
  kids.push({ type: 'line', shape: { x1: lo[0], y1: y - h, x2: lo[0], y2: y + h }, style: { stroke: c, lineWidth: 2 } });
  kids.push({ type: 'line', shape: { x1: hi[0], y1: y - h, x2: hi[0], y2: y + h }, style: { stroke: c, lineWidth: 2 } });
  return { type: 'group', children: kids };
}
function boxItem(params, api) {
  const row = api.value(0);
  const a = api.coord([api.value(2), row]), m = api.coord([api.value(3), row]), b = api.coord([api.value(4), row]);
  const y = a[1], h = BOX_H;
  const kids = [];
  if (m[0] > a[0]) kids.push({ type: 'rect', shape: { x: a[0], y: y - h / 2, width: m[0] - a[0], height: h }, style: { fill: 'rgba(150,150,150,0.64)' } });
  if (b[0] > m[0]) kids.push({ type: 'rect', shape: { x: m[0], y: y - h / 2, width: b[0] - m[0], height: h }, style: { fill: 'rgba(207,207,207,0.64)' } });
  if (b[0] > a[0]) {
    kids.push({ type: 'line', shape: { x1: a[0], y1: y - h / 2, x2: a[0], y2: y + h / 2 }, style: { stroke: 'rgba(90,90,90,0.55)', lineWidth: 1 } });
    kids.push({ type: 'line', shape: { x1: b[0], y1: y - h / 2, x2: b[0], y2: y + h / 2 }, style: { stroke: 'rgba(90,90,90,0.55)', lineWidth: 1 } });
  }
  return { type: 'group', children: kids };
}

const chart = echarts.init(document.getElementById('c'), null, { renderer: 'canvas' });
chart.setOption({
  animation: false,
  backgroundColor: '#ffffff',
  textStyle: { fontFamily: 'Lato, "Open Sans", sans-serif' },
  graphic: [
    { type: 'text', left: 4, top: 9, style: { text: 'Sheet 2', fontSize: 27, fontWeight: 300, fill: '#666', fontFamily: 'Lato, sans-serif' } },
    { type: 'text', right: 1756, top: 61, style: { text: 'TEMP_INT', fontSize: 14, fontWeight: 'bold', fill: '#333', fontFamily: 'Lato, sans-serif' } }
  ],
  grid: { left: 100, top: 80, width: 1749.5, height: 3400, containLabel: false, outerBoundsMode: 'none' },
  xAxis: {
    type: 'value', min: -13.64, max: 0,
    axisLine: { show: true, lineStyle: { color: '#e8e8e8', width: 2 } },
    axisTick: { show: true, length: 6, lineStyle: { color: '#e0e0e0' }, customValues: xTicks },
    axisLabel: { color: '#777', fontSize: 14, margin: 14, customValues: xTicks, alignMaxLabel: 'right',
                 formatter: v => v.toFixed(1) },
    splitLine: { show: true, lineStyle: { color: '#f0f0f0', width: 1 } },
    name: 'Log Avg Site EUI', nameLocation: 'middle', nameGap: 45,
    nameTextStyle: { color: '#333', fontSize: 14 }
  },
  yAxis: {
    type: 'category', data: TEMP_INT, inverse: true,
    axisLine: { show: true, lineStyle: { color: '#f0f0f0' } },
    axisTick: { show: false },
    axisLabel: { color: '#666', fontSize: 15, margin: 6, interval: 0 },
    splitLine: { show: false }
  },
  series: [
    { type: 'custom', name: 'band', z: 1, renderItem: bandItem, data: bandData,
      encode: { x: [1, 2], y: 0 }, silent: true, clip: true },
    { type: 'scatter', name: 'points', z: 2, data: scatterData, symbol: 'circle', symbolSize: 4,
      itemStyle: { color: BLUE, opacity: 0.9 }, silent: true,
      markLine: { silent: true, symbol: 'none', label: { show: false },
                  lineStyle: { type: 'dashed', color: '#c4c4c4', width: 1 }, data: [{ xAxis: 0 }] } },
    { type: 'custom', name: 'whiskers', z: 3, renderItem: whiskerItem, data: boxData,
      encode: { x: [1, 5], y: 0 }, silent: true },
    { type: 'custom', name: 'boxes', z: 4, renderItem: boxItem, data: boxData,
      encode: { x: [2, 4], y: 0 }, silent: true }
  ]
});
</script>
</body></html>
